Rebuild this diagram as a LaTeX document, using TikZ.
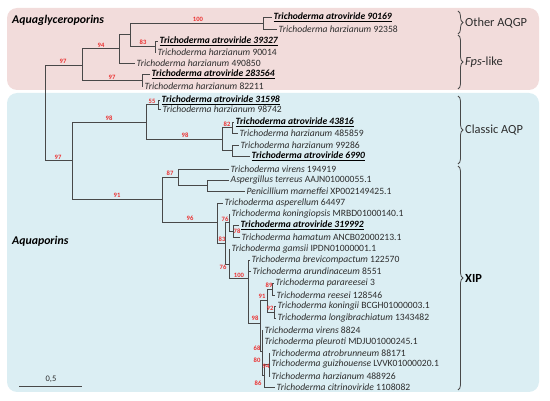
\documentclass[tikz,border=0pt]{standalone}
\usepackage{fontspec}
\setmainfont{Carlito}
\usetikzlibrary{decorations.pathreplacing}
\definecolor{pinkbg}{RGB}{242,220,219}
\definecolor{bluebg}{RGB}{219,238,243}
\definecolor{brgrey}{RGB}{72,72,72}
\definecolor{txtgrey}{RGB}{45,45,45}
\definecolor{bsred}{RGB}{235,50,50}
\begin{document}
\begin{tikzpicture}[x=1pt,y=-1pt,
  br/.style={draw=brgrey, line width=0.9pt},
  leaf/.style={anchor=west, inner sep=1.5pt, font=\fontsize{9.6}{10}\selectfont, text=txtgrey},
  bleaf/.style={leaf, text=black, font=\fontsize{9.6}{10}\selectfont\bfseries\itshape},
  bs/.style={font=\fontsize{6.6}{6.6}\selectfont\bfseries, text=bsred, inner sep=0pt},
  grp/.style={anchor=west, inner sep=0pt, font=\fontsize{11.8}{12}\selectfont\bfseries\itshape, text=black},
  cls/.style={anchor=west, inner sep=0pt, font=\fontsize{12.4}{12}\selectfont, text=txtgrey},
  brc/.style={draw=brgrey, line width=0.8pt, decorate, decoration={brace, amplitude=5pt}}]
\useasboundingbox (0,0) rectangle (550,401);
% panels
\fill[pinkbg, rounded corners=10pt] (7,8) rectangle (539,90);
\fill[bluebg, rounded corners=10pt] (7,93) rectangle (539,392);
\node[grp] (tAQGP) at (12,20) {Aquaglyceroporins};
\node[grp] (tAQP) at (12,241) {Aquaporins};
% internal nodes
\coordinate (R0) at (45,113);
\coordinate (nA) at (82,65);
\coordinate (C) at (119,48);
\coordinate (D) at (130,34);
\coordinate (F) at (263,23);
\coordinate (E) at (155,46);
\coordinate (G) at (142,80);
\coordinate (H) at (72,160);
\coordinate (I) at (146,122);
\coordinate (K) at (158,104.5);
\coordinate (L) at (222,139);
\coordinate (M) at (232,127.5);
\coordinate (N) at (232,150.5);
\coordinate (J) at (162,199);
\coordinate (O) at (178,177);
\coordinate (Q) at (207,185.5);
\coordinate (P) at (217,222);
\coordinate (V) at (225,243);
\coordinate (T76) at (229,222);
\coordinate (T78) at (233,231);
\coordinate (X) at (229,264);
\coordinate (T100) at (248,278);
\coordinate (T98) at (260,323);
\coordinate (T91) at (267,300);
\coordinate (T89) at (272,289);
\coordinate (T92) at (274,312);
\coordinate (T68) at (262,351);
\coordinate (T80) at (264,375);
\coordinate (T94) at (269,364.5);
% leaves
\node[bleaf] (l1) at (272,17) {\underline{Trichoderma atroviride 90169}};
\node[leaf] (l2) at (277,29) {\textit{Trichoderma harzianum} 92358};
\node[bleaf] (l3) at (158,41) {\underline{Trichoderma atroviride 39327}};
\node[leaf] (l4) at (156,52) {\textit{Trichoderma harzianum} 90014};
\node[leaf] (l5) at (135,63) {\textit{Trichoderma harzianum} 490850};
\node[bleaf] (l6) at (150,74) {\underline{Trichoderma atroviride 283564}};
\node[leaf] (l7) at (143,86) {\textit{Trichoderma harzianum} 82211};
\node[bleaf] (l8) at (160,100) {\underline{Trichoderma atroviride 31598}};
\node[leaf] (l9) at (161,109) {\textit{Trichoderma harzianum} 98742};
\node[bleaf] (l10) at (234,122) {\underline{Trichoderma atroviride 43816}};
\node[leaf] (l11) at (238,133) {\textit{Trichoderma harzianum} 485859};
\node[leaf] (l12) at (239,145) {\textit{Trichoderma harzianum} 99286};
\node[bleaf] (l13) at (250,156) {\underline{Trichoderma atroviride 6990}};
\node[leaf] (l14) at (229,169) {\textit{Trichoderma virens} 194919};
\node[leaf] (l15) at (229,180) {\textit{Aspergillus terreus} AAJN01000055.1};
\node[leaf] (l16) at (245,191) {\textit{Penicillium marneffei} XP002149425.1};
\node[leaf] (l17) at (223,203) {\textit{Trichoderma asperellum} 64497};
\node[leaf] (l18) at (230,214) {\textit{Trichoderma koningiopsis} MRBD01000140.1};
\node[bleaf] (l19) at (239,225) {\underline{Trichoderma atroviride 319992}};
\node[leaf] (l20) at (240,237) {\textit{Trichoderma hamatum} ANCB02000213.1};
\node[leaf] (l21) at (230,249) {\textit{Trichoderma gamsii} IPDN01000001.1};
\node[leaf] (l22) at (250,260) {\textit{Trichoderma brevicompactum} 122570};
\node[leaf] (l23) at (251,271) {\textit{Trichoderma arundinaceum} 8551};
\node[leaf] (l24) at (274,283) {\textit{Trichoderma parareesei} 3};
\node[leaf] (l25) at (275,295) {\textit{Trichoderma reesei} 128546};
\node[leaf] (l26) at (276,306) {\textit{Trichoderma koningii} BCGH01000003.1};
\node[leaf] (l27) at (276,318) {\textit{Trichoderma longibrachiatum} 1343482};
\node[leaf] (l28) at (263,330) {\textit{Trichoderma virens} 8824};
\node[leaf] (l29) at (263,342) {\textit{Trichoderma pleuroti} MDJU01000245.1};
\node[leaf] (l30) at (270,353) {\textit{Trichoderma atrobrunneum} 88171};
\node[leaf] (l31) at (270,364) {\textit{Trichoderma guizhouense} LVVK01000020.1};
\node[leaf] (l32) at (270,376) {\textit{Trichoderma harzianum} 488926};
\node[leaf] (l33) at (275,387) {\textit{Trichoderma citrinoviride} 1108082};
% branches
\draw[br] (R0) |- (nA); \draw[br] (R0) |- (H);
\draw[br] (nA) |- (C); \draw[br] (nA) |- (G);
\draw[br] (C) |- (D); \draw[br] (C) |- (l5.west);
\draw[br] (D) |- (F); \draw[br] (D) |- (E);
\draw[br] (F) |- (l1.west); \draw[br] (F) |- (l2.west);
\draw[br] (E) |- (l3.west); \draw[br] (E) |- (l4.west);
\draw[br] (G) |- (l6.west); \draw[br] (G) |- (l7.west);
\draw[br] (H) |- (I); \draw[br] (H) |- (J);
\draw[br] (I) |- (K); \draw[br] (I) |- (L);
\draw[br] (K) |- (l8.west); \draw[br] (K) |- (l9.west);
\draw[br] (L) |- (M); \draw[br] (L) |- (N);
\draw[br] (M) |- (l10.west); \draw[br] (M) |- (l11.west);
\draw[br] (N) |- (l12.west); \draw[br] (N) |- (l13.west);
\draw[br] (J) |- (O); \draw[br] (J) |- (P);
\draw[br] (O) |- (l14.west); \draw[br] (O) |- (Q);
\draw[br] (Q) |- (l15.west); \draw[br] (Q) |- (l16.west);
\draw[br] (P) |- (l17.west); \draw[br] (P) |- (V);
\draw[br] (V) |- (T76); \draw[br] (V) |- (X);
\draw[br] (T76) |- (l18.west); \draw[br] (T76) |- (T78);
\draw[br] (T78) |- (l19.west); \draw[br] (T78) |- (l20.west);
\draw[br] (X) |- (l21.west); \draw[br] (X) |- (T100);
\draw[br] (T100) |- (l22.west); \draw[br] (T100) |- (l23.west); \draw[br] (T100) |- (T98);
\draw[br] (T98) |- (T91); \draw[br] (T98) |- (T68);
\draw[br] (T91) |- (T89); \draw[br] (T91) |- (T92);
\draw[br] (T89) |- (l24.west); \draw[br] (T89) |- (l25.west);
\draw[br] (T92) |- (l26.west); \draw[br] (T92) |- (l27.west);
\draw[br] (T68) |- (l28.west); \draw[br] (T68) |- (l29.west); \draw[br] (T68) |- (T80);
\draw[br] (T80) |- (T94); \draw[br] (T80) |- (l33.west);
\draw[br] (T94) |- (l30.west); \draw[br] (T94) |- (l31.west); \draw[br] (T94) |- (l32.west);
% bootstrap values
\node[bs] (b1) at (198,19) {100};
\node[bs] (b2) at (143,42) {83};
\node[bs] (b3) at (101,45) {94};
\node[bs] (b4) at (63,61) {97};
\node[bs] (b5) at (112,77) {97};
\node[bs] (b6) at (152,101) {55};
\node[bs] (b7) at (109,118) {98};
\node[bs] (b8) at (227,124) {82};
\node[bs] (b9) at (185,135) {98};
\node[bs] (b10) at (58,157) {97};
\node[bs] (b11) at (170,173) {87};
\node[bs] (b12) at (117,195) {91};
\node[bs] (b13) at (190,218) {96};
\node[bs] (b14) at (225,219) {76};
\node[bs] (b15) at (237,231) {78};
\node[bs] (b16) at (222,239) {83};
\node[bs] (b17) at (223,267) {76};
\node[bs] (b18) at (239,275) {100};
\node[bs] (b19) at (269,285) {89};
\node[bs] (b20) at (262,296) {91};
\node[bs] (b21) at (270,308) {92};
\node[bs] (b22) at (255,318) {98};
\node[bs] (b23) at (257,348) {68};
\node[bs] (b24) at (257,360) {80};
\node[bs] (b25) at (266,366) {94};
\node[bs] (b26) at (258,383) {86};
% scale bar
\coordinate (sb1) at (19,386);
\coordinate (sb2) at (82,386);
\draw[br] (sb1) -- (sb2);
\node[font=\fontsize{8.5}{8.5}\selectfont, text=txtgrey, inner sep=0pt] (sbl) at (51,379) {0,5};
% braces and clade names
\draw[brc] (458,11) -- (458,34);
\draw[brc] (458,35) -- (458,89);
\draw[brc] (458,96) -- (458,164);
\draw[brc] (458,166) -- (458,390);
\node[cls] (c1) at (465,23) {Other AQGP};
\node[cls] (c2) at (465,62) {\textit{Fps}-like};
\node[cls] (c3) at (465,130) {Classic AQP};
\node[cls, font=\fontsize{12.4}{12}\selectfont\bfseries, text=black] (c4) at (465,278) {XIP};
\end{tikzpicture}
\end{document}
